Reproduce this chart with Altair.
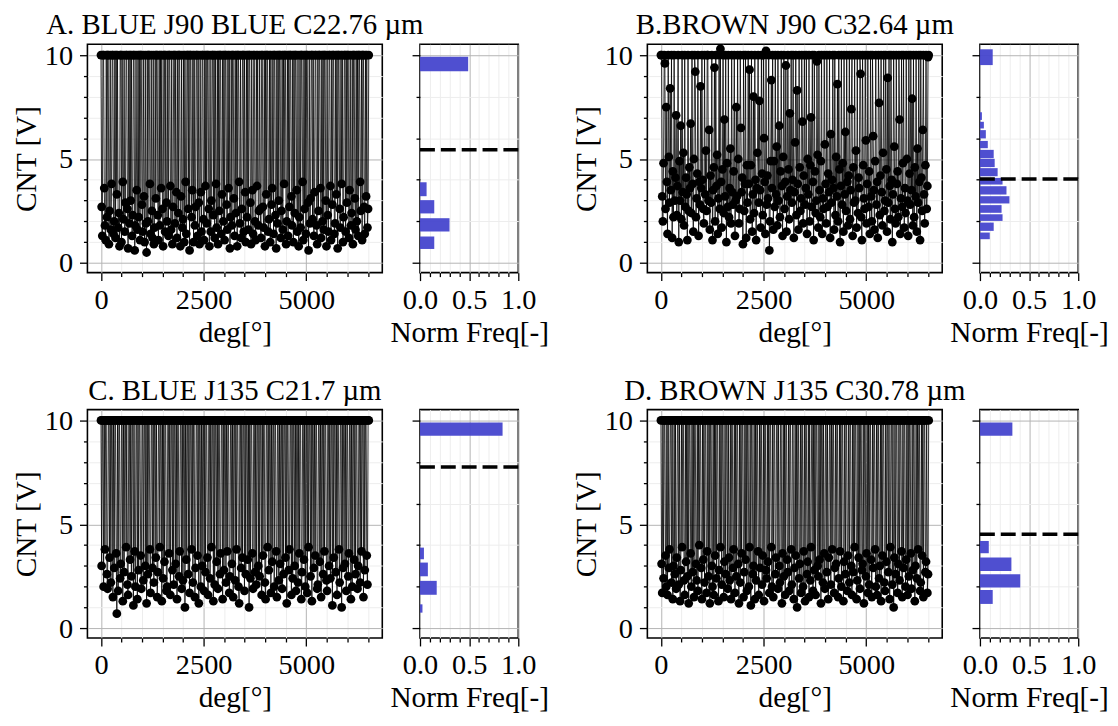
import altair as alt
import pandas as pd

FONT = "Liberation Serif"
DEG_STEP = 16.1  # sampling step of the rotation angle (deg)

TITLES = ["A. BLUE J90 BLUE C22.76 µm", "B.BROWN J90 C32.64 µm",
          "C. BLUE J135 C21.7 µm", "D. BROWN J135 C30.78 µm"]

CNT_A = [
    10, 2.7, 1.3, 10, 10, 3.6, 1.8, 1.1, 10, 2.2, 10, 10, 0.9, 2.5, 10, 1.6, 3.8, 10, 10, 1.4, 2.0, 10, 1.2, 10, 3.3, 10, 1.7, 2.4, 0.8,
    10, 10, 1.0, 10, 3.9, 2.1, 10, 1.5, 2.9, 10, 10, 2.6, 0.7, 10, 1.9, 10, 3.0, 10, 1.3, 2.3, 10, 10, 0.6, 1.8, 10, 3.5, 1.6, 10, 2.2,
    10, 1.1, 10, 10, 2.8, 1.5, 10, 3.2, 1.0, 10, 1.9, 0.5, 10, 2.0, 10, 10, 3.8, 1.4, 10, 2.5, 1.2, 10, 0.9, 1.7, 10, 3.1, 10, 10, 2.3,
    1.1, 10, 1.8, 10, 3.6, 10, 2.6, 0.8, 10, 10, 1.5, 10, 2.9, 2.0, 10, 1.3, 10, 10, 3.7, 1.6, 10, 0.9, 2.7, 10, 10, 1.9, 10, 3.4, 1.2,
    10, 2.4, 10, 10, 0.8, 3.2, 10, 1.7, 2.1, 10, 1.0, 10, 3.9, 1.4, 10, 10, 2.6, 10, 0.6, 10, 10, 2.2, 3.5, 10, 1.0, 10, 1.8, 2.7, 10,
    10, 1.3, 10, 2.9, 0.9, 10, 3.4, 1.5, 10, 10, 2.1, 1.1, 10, 3.7, 10, 1.9, 10, 10, 2.6, 0.8, 10, 1.5, 3.0, 10, 10, 2.3, 10, 1.2, 10,
    3.8, 1.7, 10, 0.9, 10, 2.5, 10, 10, 1.4, 3.3, 10, 2.0, 10, 1.1, 10, 10, 2.8, 1.6, 10, 3.6, 10, 0.7, 2.2, 10, 1.8, 10, 10, 3.1, 1.3,
    10, 2.4, 10, 0.8, 10, 10, 3.9, 1.9, 10, 1.2, 2.6, 10, 10, 1.5, 10, 3.4, 1.0, 10, 2.2, 10, 1.6, 10, 10, 2.9, 0.9, 10, 3.5, 1.4, 10,
    10, 2.0, 1.1, 10, 3.7, 10, 1.8, 2.5, 10, 2.6, 1.2, 10, 10, 2.7, 1.7, 10, 0.8, 10, 3.3, 10, 10, 1.5, 2.1, 10, 1.0, 10, 2.8, 3.6, 10,
    1.4, 10, 10, 2.3, 0.7, 10, 1.9, 10, 3.0, 10, 10, 1.2, 2.5, 10, 1.6, 10, 3.8, 10, 10, 0.9, 2.0, 10, 1.3, 10, 2.7, 10, 10, 3.2, 1.8,
    10, 1.0, 10, 2.4, 10, 10, 3.5, 1.5, 10, 0.8, 2.2, 10, 1.7, 10, 10, 3.9, 1.1, 10, 2.6, 10, 1.4, 10, 10, 2.9, 0.6, 10, 1.9, 3.1, 10,
    10, 2.1, 10, 1.3, 3.4, 10, 10, 1.8, 0.9, 10, 2.5, 10, 10, 3.6, 1.2, 10, 2.0, 10, 1.6, 10, 10, 3.0, 0.8, 10, 2.3, 1.5, 10, 10, 3.7,
    1.1, 10, 2.8, 10, 10, 1.4, 1.9, 10, 3.3, 10, 0.7, 10, 10, 2.6, 1.7, 10, 3.8, 10, 1.0, 2.2, 10, 10, 1.5, 10, 2.9, 10, 10, 1.2, 3.5,
    10, 1.8, 2.4, 10, 0.9, 10, 10, 3.1, 1.6, 10, 2.0, 10, 1.3, 10, 10, 3.9, 2.5, 10, 1.1, 10, 10, 2.7, 1.4, 10, 3.2, 10, 1.7, 2.6, 10]

CNT_B = [
    10, 10, 3.2, 2.0, 4.8, 10, 9.6, 2.6, 7.5, 3.9, 1.4, 10, 5.1, 2.9, 8.4, 3.5, 10, 1.2, 4.4, 2.2, 10, 3.0, 4.1, 7.1, 2.3, 3.7, 10, 1.0, 4.9,
    3.0, 6.6, 2.1, 10, 3.4, 5.3, 1.8, 10, 2.7, 4.1, 3.3, 1.1, 10, 2.5, 4.6, 3.6, 6.7, 2.4, 10, 3.8, 1.5, 5.0, 10, 9.2, 2.2, 3.1, 4.3, 10, 1.3,
    3.9, 2.8, 8.5, 3.6, 10, 4.0, 2.6, 1.9, 10, 3.3, 5.4, 2.5, 10, 10, 3.0, 6.4, 1.6, 4.2, 2.9, 10, 1.1, 3.5, 4.6, 9.4, 2.0, 10, 3.7, 5.2, 1.4,
    3.1, 10, 2.6, 10.3, 3.9, 1.7, 4.5, 10, 2.4, 6.9, 3.2, 10, 1.0, 4.8, 2.7, 10, 2.2, 3.6, 5.5, 1.9, 10, 3.4, 2.8, 4.4, 10, 1.3, 3.0, 7.5, 3.2,
    10, 5.0, 1.9, 2.6, 10, 6.5, 3.4, 4.1, 0.9, 10, 2.5, 3.8, 10, 1.2, 4.7, 2.9, 10, 3.8, 9.3, 2.1, 4.7, 10, 1.5, 3.3, 8.0, 2.4, 10, 4.0, 1.1,
    3.6, 5.3, 10, 2.9, 7.8, 3.5, 1.7, 10, 4.3, 2.3, 10, 6.0, 3.9, 1.4, 10.2, 2.8, 4.2, 3.1, 10, 0.6, 2.0, 4.9, 8.8, 3.6, 10, 1.6, 4.9, 2.7, 10,
    3.3, 5.6, 1.8, 10, 3.0, 6.6, 2.2, 4.4, 10, 3.7, 1.3, 5.1, 10, 2.6, 3.9, 9.5, 1.5, 3.2, 10, 4.5, 2.1, 7.2, 3.5, 10, 2.9, 4.0, 10, 1.2, 3.4,
    5.8, 10, 2.3, 8.3, 3.8, 1.6, 10, 4.6, 2.5, 3.1, 10, 6.8, 1.9, 4.2, 10, 2.8, 3.6, 10, 1.4, 5.0, 3.3, 10, 2.0, 4.7, 7.0, 2.7, 10, 3.9, 1.1,
    10, 4.4, 2.4, 3.0, 9.7, 5.2, 1.7, 10, 3.5, 2.2, 4.9, 10, 1.4, 3.1, 2.6, 10, 5.7, 3.8, 1.9, 10, 2.7, 4.3, 3.4, 10, 1.2, 6.2, 2.9, 4.0, 10,
    3.6, 1.6, 10, 2.3, 5.1, 3.2, 8.6, 2.0, 10, 4.5, 1.0, 3.7, 10, 2.8, 4.8, 1.5, 10, 3.3, 6.3, 2.5, 10, 3.9, 1.8, 4.2, 10, 2.1, 3.5, 7.4, 10,
    1.3, 4.6, 2.9, 10, 3.0, 5.4, 1.7, 10, 2.4, 4.1, 3.6, 10, 9.1, 2.2, 1.1, 10, 4.7, 3.1, 2.6, 10, 5.9, 1.9, 3.8, 10, 2.7, 4.4, 1.4, 10, 3.2,
    2.0, 10, 6.1, 3.5, 1.6, 4.9, 10, 2.8, 3.9, 1.2, 10, 7.7, 2.3, 4.2, 10, 3.4, 1.8, 5.3, 10, 2.5, 3.0, 10, 4.5, 1.5, 8.9, 2.9, 10, 3.7, 2.1,
    10, 4.0, 1.0, 3.3, 10, 5.6, 2.6, 1.9, 10, 3.8, 4.4, 2.2, 10, 6.9, 1.4, 3.1, 10, 2.7, 4.8, 10, 1.7, 3.6, 2.4, 10, 5.0, 3.0, 1.3, 10, 4.3,
    2.8, 10, 3.5, 7.9, 1.8, 10, 2.2, 4.6, 3.2, 10, 1.5, 5.5, 2.9, 10, 3.9, 1.1, 10, 4.1, 2.5, 6.4, 10, 3.3, 1.9, 4.7, 10, 2.6, 3.7, 9.9, 10]

CNT_C = [
    10, 3.0, 10, 10, 2.0, 10, 3.8, 10, 10, 2.6, 1.9, 10, 10, 3.4, 10, 2.2, 10, 10, 1.5, 10, 2.9, 10, 10, 3.6, 0.7, 10, 1.8, 10, 10,
    2.4, 3.1, 10, 10, 1.3, 10, 2.7, 10, 10, 3.9, 10, 2.1, 1.6, 10, 10, 3.3, 10, 2.5, 10, 10, 1.1, 10, 3.7, 2.0, 10, 10, 1.4, 10, 2.8,
    10, 10, 3.5, 1.9, 10, 10, 2.3, 10, 10, 3.0, 10, 1.2, 10, 2.6, 10, 10, 3.8, 1.7, 10, 10, 2.9, 10, 2.2, 10, 10, 3.4, 10, 1.5, 2.7,
    10, 10, 3.9, 10, 10, 1.3, 10, 2.4, 10, 3.2, 10, 10, 1.8, 2.0, 10, 10, 3.6, 10, 1.6, 10, 10, 2.8, 10, 2.1, 10, 10, 3.1, 10, 1.4,
    10, 10, 2.5, 3.7, 10, 10, 1.9, 10, 2.3, 10, 10, 1.0, 10, 3.3, 10, 10, 2.6, 10, 1.7, 10, 10, 3.8, 10, 2.2, 10, 10, 1.5, 2.9, 10,
    10, 3.5, 10, 1.2, 10, 10, 2.0, 10, 3.0, 10, 10, 1.8, 10, 2.7, 10, 10, 3.4, 1.6, 10, 10, 2.4, 10, 3.9, 10, 10, 1.3, 10, 2.1, 10,
    10, 3.2, 10, 1.9, 10, 10, 2.6, 3.6, 10, 10, 1.4, 10, 2.8, 10, 10, 2.2, 10, 3.7, 10, 10, 1.7, 2.5, 10, 10, 3.1, 10, 1.5, 10, 10,
    2.3, 10, 3.8, 10, 10, 2.0, 1.2, 10, 10, 2.9, 10, 3.4, 10, 10, 1.8, 10, 2.6, 10, 10, 3.3, 10, 1.0, 10, 2.4, 10, 10, 3.6, 1.9, 10,
    10, 2.7, 10, 2.1, 10, 10, 3.0, 10, 2.5, 10, 10, 1.6, 10, 3.5, 10, 10, 2.2, 1.4, 10, 10, 3.9, 10, 2.8, 10, 10, 1.7, 10, 3.2, 10,
    10, 2.0, 10, 10, 3.7, 1.5, 10, 10, 2.3, 10, 3.1, 10, 10, 1.9, 10, 2.6, 10, 10, 3.4, 10, 1.2, 10, 10, 2.8, 3.8, 10, 10, 1.6, 10,
    2.4, 10, 10, 3.0, 10, 1.8, 10, 10, 2.2, 10, 3.6, 10, 10, 1.4, 2.7, 10, 10, 3.3, 10, 2.0, 10, 10, 1.7, 10, 3.9, 10, 10, 2.5, 10,
    1.3, 10, 10, 2.9, 10, 3.5, 10, 10, 1.9, 2.1, 10, 10, 3.2, 10, 1.5, 10, 10, 2.6, 10, 3.7, 10, 10, 2.3, 1.8, 10, 10, 3.0, 10, 2.4,
    10, 10, 1.1, 10, 3.4, 10, 10, 2.7, 10, 1.6, 10, 10, 3.8, 2.2, 10, 10, 1.0, 10, 2.9, 10, 10, 3.1, 10, 1.8, 10, 10, 2.5, 3.6, 10,
    10, 1.4, 10, 2.0, 10, 10, 3.3, 10, 2.6, 10, 10, 1.9, 3.0, 10, 10, 2.2, 10, 3.7, 10, 10, 1.5, 10, 2.8, 10, 10, 3.5, 2.1, 10, 10]

CNT_D = [
    10, 3.1, 1.7, 10, 2.4, 10, 10, 3.5, 2.0, 10, 1.6, 10, 2.9, 3.8, 10, 10, 2.2, 10, 1.4, 3.0, 10, 2.6, 10, 1.9, 3.4, 10, 10, 2.1, 10,
    1.3, 2.8, 10, 3.9, 10, 10, 2.3, 1.6, 10, 3.2, 10, 2.5, 10, 1.2, 10, 10, 3.6, 2.0, 10, 2.7, 10, 1.5, 10, 10, 3.1, 2.3, 10, 1.8, 10,
    4.0, 10, 10, 2.9, 1.4, 10, 3.3, 10, 2.2, 10, 10, 1.7, 3.7, 10, 2.5, 10, 1.2, 10, 10, 3.0, 2.0, 10, 1.6, 10, 3.5, 10, 2.4, 10, 10,
    1.3, 2.8, 10, 3.9, 10, 2.1, 10, 10, 1.5, 3.2, 10, 2.6, 10, 10, 1.9, 10, 3.4, 2.3, 10, 1.4, 10, 10, 2.9, 3.8, 10, 1.7, 10, 2.5, 10,
    10, 3.1, 1.2, 10, 2.2, 10, 3.6, 10, 10, 1.5, 2.7, 10, 3.3, 10, 1.8, 10, 10, 2.0, 3.9, 10, 1.1, 10, 10, 2.6, 3.0, 10, 1.4, 10, 2.3,
    10, 10, 3.7, 1.6, 10, 2.9, 10, 10, 2.1, 3.5, 10, 1.3, 10, 10, 2.8, 2.4, 10, 3.2, 10, 1.7, 10, 10, 3.9, 2.0, 10, 1.5, 10, 10, 2.6,
    3.4, 10, 10, 1.9, 10, 3.0, 2.2, 10, 10, 1.2, 3.6, 10, 2.5, 10, 1.6, 10, 10, 3.3, 2.7, 10, 1.8, 10, 10, 3.8, 2.1, 10, 10, 1.4, 2.9,
    10, 3.5, 10, 1.0, 10, 10, 2.4, 3.1, 10, 1.7, 10, 10, 2.0, 3.7, 10, 1.3, 10, 10, 2.6, 3.2, 10, 1.5, 10, 2.3, 3.9, 10, 10, 1.8, 10,
    2.8, 10, 1.6, 10, 10, 3.0, 2.5, 10, 3.3, 10, 1.2, 10, 10, 2.2, 10, 3.6, 1.9, 10, 10, 2.7, 10, 1.4, 3.4, 10, 10, 2.1, 10, 3.8, 10,
    10, 1.7, 2.9, 10, 3.1, 10, 10, 1.5, 2.4, 10, 3.7, 10, 2.0, 10, 10, 1.3, 3.2, 10, 2.6, 10, 10, 1.8, 3.5, 10, 2.2, 10, 10, 3.0, 1.6,
    10, 2.7, 10, 3.9, 10, 10, 1.4, 2.3, 10, 3.4, 10, 1.9, 10, 10, 2.8, 3.1, 10, 1.2, 10, 10, 2.5, 3.6, 10, 1.7, 10, 2.1, 10, 10, 3.3,
    1.5, 10, 2.9, 10, 10, 3.8, 2.0, 10, 1.6, 10, 10, 2.4, 3.0, 10, 1.3, 10, 3.5, 10, 10, 2.2, 1.8, 10, 3.2, 10, 10, 2.7, 10, 1.4, 3.9,
    10, 10, 2.1, 10, 1.0, 3.4, 10, 2.6, 10, 10, 1.7, 3.1, 10, 2.3, 10, 10, 3.7, 1.5, 10, 2.9, 10, 10, 2.0, 3.3, 10, 1.6, 10, 2.5, 10,
    10, 3.6, 1.9, 10, 2.8, 10, 10, 1.3, 3.0, 10, 2.4, 10, 3.8, 10, 10, 1.8, 2.2, 10, 3.5, 10, 1.5, 10, 10, 2.7, 3.2, 10, 1.7, 2.6, 10]

# histogram bars: lower edge, upper edge (CNT [V]) and normalised frequency
HIST_A_LO = [9.22, 3.21, 2.38, 1.51, 0.67]
HIST_A_HI = [9.92, 3.88, 3.02, 2.15, 1.27]
HIST_A_FREQ = [0.49, 0.067, 0.145, 0.30, 0.145]

HIST_B_LO = [9.52, 6.88, 6.47, 5.99, 5.52, 5.04, 4.61, 4.17, 3.77, 3.29, 2.86, 2.41, 2.02, 1.54, 1.14]
HIST_B_HI = [10.28, 7.25, 6.79, 6.39, 5.87, 5.44, 5.01, 4.56, 4.09, 3.69, 3.21, 2.78, 2.34, 1.94, 1.46]
HIST_B_FREQ = [0.13, 0.02, 0.04, 0.06, 0.08, 0.14, 0.15, 0.18, 0.23, 0.27, 0.30, 0.22, 0.23, 0.14, 0.10]

HIST_C_LO = [9.27, 3.32, 2.50, 1.61, 0.75]
HIST_C_HI = [9.90, 3.88, 3.16, 2.28, 1.15]
HIST_C_FREQ = [0.84, 0.04, 0.08, 0.17, 0.025]

HIST_D_LO = [9.27, 3.61, 2.76, 1.96, 1.17]
HIST_D_HI = [9.90, 4.20, 3.40, 2.60, 1.84]
HIST_D_FREQ = [0.33, 0.09, 0.32, 0.41, 0.13]

MEANS = [5.44, 4.04, 7.76, 4.52]

X_MINOR_STEP = 500
Y_TICKS = [0, 1, 2, 3, 4, 5, 6, 7, 8, 9, 10]
F_TICKS = [0.0, 0.1, 0.2, 0.3, 0.4, 0.5, 0.6, 0.7, 0.8, 0.9, 1.0]

MAIN_W, HIST_W, GAP_W, PANEL_H = 297, 99, 54, 230
Y_DOMAIN = [-0.47, 10.52]
X_DOMAIN = [-330, 6850]

MAJOR_GRID = "#b4b4b4"
MINOR_GRID = "#ededed"
BAR_COLOR = "#4646cd"


def cond(test, a, b):
    return {"condition": {"test": test, "value": a}, "value": b}


def y_axis(show_labels):
    test = "datum.value % 5 === 0"
    kw = dict(values=Y_TICKS, format="d", labelExpr=f"{test} ? datum.label : ''",
              tickSize=cond(test, 8, 4), gridColor=cond(test, MAJOR_GRID, MINOR_GRID),
              labelOverlap=False, labelPadding=7, titlePadding=3)
    if show_labels:
        return alt.Axis(title="CNT [V]", **kw)
    return alt.Axis(title=None, labels=False, **kw)


def main_panel(vals, title):
    df = pd.DataFrame({"deg": [round(i * DEG_STEP, 1) for i in range(len(vals))], "cnt": vals})
    test = "datum.value % 2500 === 0"
    xvals = list(range(0, 6501, X_MINOR_STEP))
    x = alt.X("deg:Q", scale=alt.Scale(domain=X_DOMAIN, nice=False, zero=False),
              axis=alt.Axis(title="deg[°]", values=xvals, format="d",
                            labelExpr=f"{test} ? datum.label : ''",
                            tickSize=cond(test, 8, 4),
                            gridColor=cond(test, MAJOR_GRID, MINOR_GRID),
                            labelOverlap=False, labelFlush=False,
                            labelPadding=5, titlePadding=5))
    y = alt.Y("cnt:Q", scale=alt.Scale(domain=Y_DOMAIN, nice=False, zero=False),
              axis=y_axis(True))
    base = alt.Chart(df).encode(x=x, y=y)
    line = base.mark_line(color="black", strokeWidth=0.8)
    pts = base.mark_circle(size=78, color="black", opacity=1)
    return alt.layer(line, pts).properties(
        width=MAIN_W, height=PANEL_H,
        title=alt.TitleParams(title, anchor="middle", offset=1))


def hist_panel(lo, hi, freq, mean):
    df = pd.DataFrame({"lo": lo, "hi": hi, "freq": freq, "base": [0.0] * len(lo)})
    test = "abs(datum.value * 2 - round(datum.value * 2)) < 1e-6"
    x = alt.X("freq:Q", scale=alt.Scale(domain=[0, 1], nice=False, zero=False),
              axis=alt.Axis(title="Norm Freq[-]", values=F_TICKS, format=".1f",
                            labelExpr=f"{test} ? datum.label : ''",
                            tickSize=cond(test, 8, 4),
                            gridColor=cond(test, MAJOR_GRID, MINOR_GRID),
                            labelOverlap=False, labelFlush=False,
                            labelPadding=5, titlePadding=5))
    yscale = alt.Scale(domain=Y_DOMAIN, nice=False, zero=False)
    bars = alt.Chart(df).mark_bar(color=BAR_COLOR, opacity=0.95).encode(
        x=x, x2=alt.X2("base:Q"),
        y=alt.Y("lo:Q", scale=yscale, axis=y_axis(False)), y2=alt.Y2("hi:Q"))
    mdf = pd.DataFrame({"mean": [mean]})
    rule = alt.Chart(mdf).mark_rule(color="black", strokeWidth=3.5, strokeDash=[15, 6]).encode(
        y=alt.Y("mean:Q", scale=yscale))
    return alt.layer(bars, rule).properties(width=HIST_W, height=PANEL_H)


def spacer():
    df = pd.DataFrame({"v": [0]})
    return alt.Chart(df).mark_point(opacity=0).encode(
        x=alt.X("v:Q", axis=None), y=alt.Y("v:Q", axis=None)
    ).properties(width=GAP_W, height=PANEL_H,
                 view=alt.ViewBackground(strokeOpacity=0))


panels = [
    main_panel(CNT_A, TITLES[0]), hist_panel(HIST_A_LO, HIST_A_HI, HIST_A_FREQ, MEANS[0]),
    spacer(),
    main_panel(CNT_B, TITLES[1]), hist_panel(HIST_B_LO, HIST_B_HI, HIST_B_FREQ, MEANS[1]),
    main_panel(CNT_C, TITLES[2]), hist_panel(HIST_C_LO, HIST_C_HI, HIST_C_FREQ, MEANS[2]),
    spacer(),
    main_panel(CNT_D, TITLES[3]), hist_panel(HIST_D_LO, HIST_D_HI, HIST_D_FREQ, MEANS[3]),
]

chart = alt.concat(*panels, columns=5, spacing={"row": 138, "column": 38},
                   bounds="flush", align="each").properties(
    padding={"left": 2, "top": 0, "right": 0, "bottom": 0}, background="white"
).configure_view(stroke="black", strokeWidth=1.6).configure_axis(
    labelFont=FONT, labelFontSize=28.5, labelColor="black",
    titleFont=FONT, titleFontSize=29.5, titleFontWeight="normal", titleColor="black",
    tickColor="black", tickWidth=1.3, domain=False, gridWidth=1
).configure_title(font=FONT, fontSize=29, fontWeight="normal", color="black")

chart.save("out.html", embed_options={"renderer": "svg", "actions": False})
